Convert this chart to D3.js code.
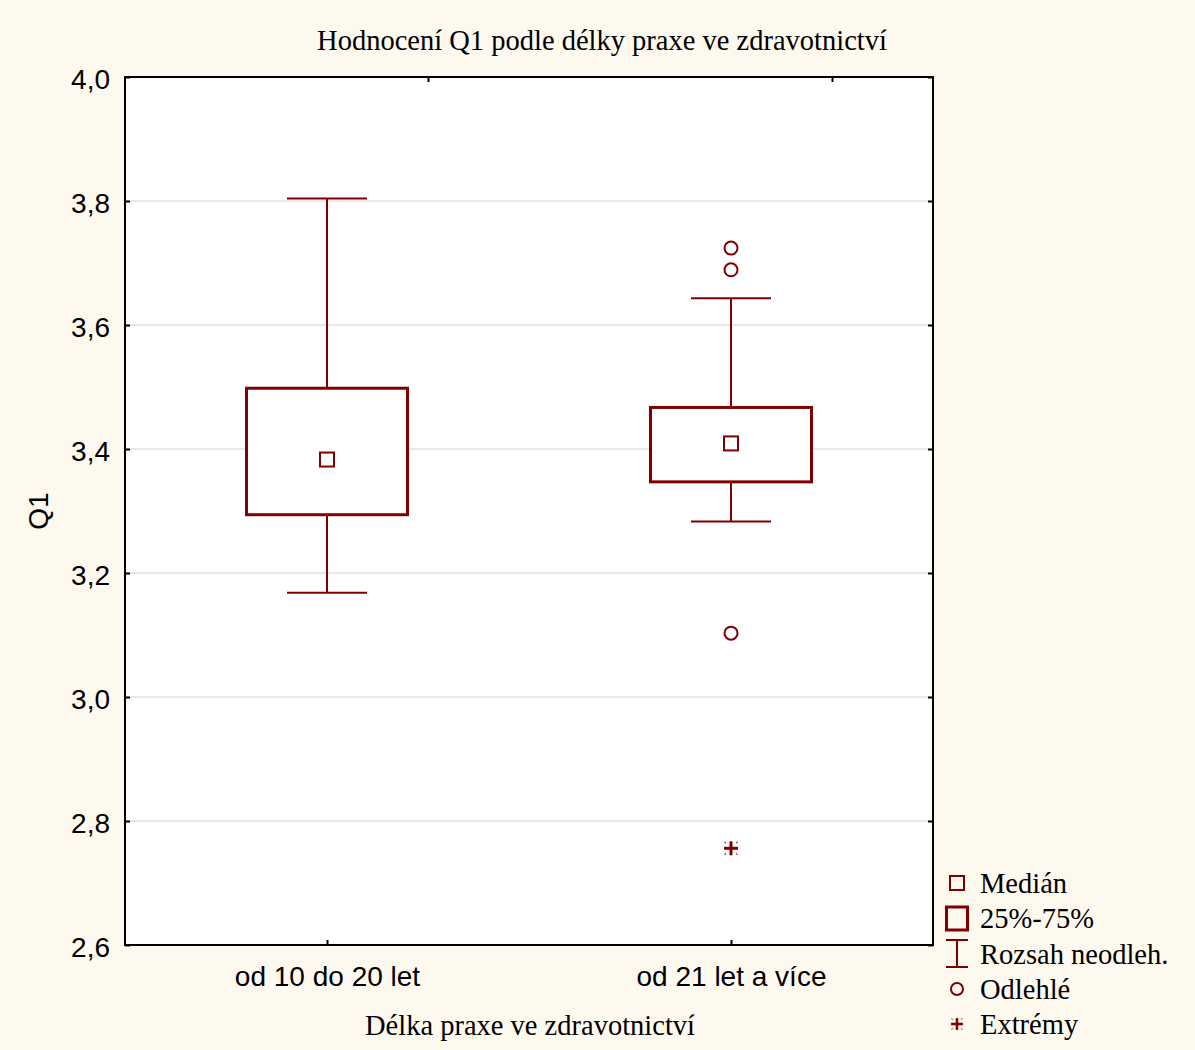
<!DOCTYPE html>
<html>
<head>
<meta charset="utf-8">
<script src="https://cdn.jsdelivr.net/npm/d3@7"></script>
<style>
  html, body { margin: 0; padding: 0; background: #fef9ee; }
  svg { display: block; }
</style>
</head>
<body>
<svg id="chart" width="1195" height="1050"></svg>
<script>
// Box plot of Q1 scores by length of practice
const categories = ["od 10 do 20 let", "od 21 let a více"];
const q1Lower = [3.294, 3.347];      // 25th percentile
const q1Median = [3.383, 3.409];
const q1Upper = [3.498, 3.467];      // 75th percentile
const whiskerLow = [3.168, 3.283];   // non-outlier minimum
const whiskerHigh = [3.804, 3.643];  // non-outlier maximum
const outliers = [[], [3.724, 3.689, 3.103]];
const extremes = [[], [2.756]];
const yTicks = [2.6, 2.8, 3.0, 3.2, 3.4, 3.6, 3.8, 4.0];
const topTicks = [1.25, 2.25];

const legendItems = ["Medián", "25%-75%", "Rozsah neodleh.", "Odlehlé", "Extrémy"];

const W = 1195, H = 1050;
const plot = { left: 125, top: 77, right: 933, bottom: 945 };
const red = "#800000";
const serif = "'Liberation Serif', 'Times New Roman', serif";
const sans = "'Liberation Sans', Arial, sans-serif";
const sansSize = 28;

const svg = d3.select("#chart");
svg.append("rect").attr("width", W).attr("height", H).attr("fill", "#fef9ee");

const x = d3.scaleLinear().domain([0.5, 2.5]).range([plot.left, plot.right]);
const y = d3.scaleLinear().domain([2.6, 4.0]).range([plot.bottom, plot.top]);
const fmt = v => d3.format(".1f")(v).replace(".", ",");

// plot area
svg.append("rect")
  .attr("x", plot.left).attr("y", plot.top)
  .attr("width", plot.right - plot.left).attr("height", plot.bottom - plot.top)
  .attr("fill", "#ffffff");

// horizontal grid
svg.append("g").selectAll("line")
  .data(yTicks.filter(v => v > 2.6 && v < 4.0))
  .join("line")
  .attr("x1", plot.left).attr("x2", plot.right)
  .attr("y1", d => y(d)).attr("y2", d => y(d))
  .attr("stroke", "#e0e0e0").attr("stroke-width", 1.5);

// axes (ticks point inward)
const leftAxis = svg.append("g").attr("transform", `translate(${plot.left},0)`)
  .call(d3.axisLeft(y).tickValues(yTicks).tickFormat(fmt).tickSizeInner(-5).tickSizeOuter(0).tickPadding(15));
const rightAxis = svg.append("g").attr("transform", `translate(${plot.right},0)`)
  .call(d3.axisRight(y).tickValues(yTicks).tickFormat("").tickSizeInner(-5).tickSizeOuter(0));
const bottomAxis = svg.append("g").attr("transform", `translate(0,${plot.bottom})`)
  .call(d3.axisBottom(x).tickValues([1, 2]).tickFormat(d => categories[d - 1]).tickSizeInner(-5).tickSizeOuter(0));
const topAxis = svg.append("g").attr("transform", `translate(0,${plot.top})`)
  .call(d3.axisTop(x).tickValues(topTicks).tickFormat("").tickSizeInner(-5).tickSizeOuter(0));

[leftAxis, rightAxis, bottomAxis, topAxis].forEach(g => {
  g.select(".domain").remove();
  g.selectAll(".tick line").attr("stroke", "#000").attr("stroke-width", 2);
  g.selectAll("text").attr("fill", "#000").attr("font-family", sans).attr("font-size", sansSize);
});
leftAxis.selectAll("text").attr("dy", "0.4em");
bottomAxis.selectAll("text").attr("y", 41).attr("dy", 0);

// frame
svg.append("rect")
  .attr("x", plot.left).attr("y", plot.top)
  .attr("width", plot.right - plot.left).attr("height", plot.bottom - plot.top)
  .attr("fill", "none").attr("stroke", "#000").attr("stroke-width", 2);

// boxes
const boxW = 161, capW = 80;
const groups = svg.append("g").selectAll("g")
  .data(categories.map((c, i) => ({
    pos: i + 1, lo: q1Lower[i], med: q1Median[i], hi: q1Upper[i],
    wl: whiskerLow[i], wh: whiskerHigh[i], out: outliers[i], ext: extremes[i]
  })))
  .join("g");

// whiskers
groups.append("line")
  .attr("x1", d => x(d.pos)).attr("x2", d => x(d.pos))
  .attr("y1", d => y(d.wh)).attr("y2", d => y(d.hi))
  .attr("stroke", red).attr("stroke-width", 2);
groups.append("line")
  .attr("x1", d => x(d.pos)).attr("x2", d => x(d.pos))
  .attr("y1", d => y(d.lo)).attr("y2", d => y(d.wl))
  .attr("stroke", red).attr("stroke-width", 2);
groups.append("line")
  .attr("x1", d => x(d.pos) - capW / 2).attr("x2", d => x(d.pos) + capW / 2)
  .attr("y1", d => y(d.wh)).attr("y2", d => y(d.wh))
  .attr("stroke", red).attr("stroke-width", 2);
groups.append("line")
  .attr("x1", d => x(d.pos) - capW / 2).attr("x2", d => x(d.pos) + capW / 2)
  .attr("y1", d => y(d.wl)).attr("y2", d => y(d.wl))
  .attr("stroke", red).attr("stroke-width", 2);

// interquartile box
groups.append("rect")
  .attr("x", d => x(d.pos) - boxW / 2).attr("width", boxW)
  .attr("y", d => y(d.hi)).attr("height", d => y(d.lo) - y(d.hi))
  .attr("fill", "#fff").attr("stroke", red).attr("stroke-width", 3);

// median marker
groups.append("rect")
  .attr("x", d => x(d.pos) - 7).attr("y", d => y(d.med) - 7)
  .attr("width", 14).attr("height", 14)
  .attr("fill", "none").attr("stroke", red).attr("stroke-width", 2);

// outliers and extremes
groups.each(function(d) {
  const g = d3.select(this);
  g.selectAll("circle").data(d.out).join("circle")
    .attr("cx", x(d.pos)).attr("cy", v => y(v)).attr("r", 6.5)
    .attr("fill", "none").attr("stroke", red).attr("stroke-width", 2);
  g.selectAll("g.ext").data(d.ext).join("g").attr("class", "ext")
    .attr("transform", v => `translate(${x(d.pos)},${y(v)})`)
    .each(function() { drawExtreme(d3.select(this)); });
});

function drawExtreme(g) {
  g.append("line").attr("x1", -7).attr("x2", 7).attr("y1", 0).attr("y2", 0)
    .attr("stroke", red).attr("stroke-width", 3);
  g.append("line").attr("x1", 0).attr("x2", 0).attr("y1", -7).attr("y2", 7)
    .attr("stroke", red).attr("stroke-width", 3);
  [[-1, -1], [1, -1], [-1, 1], [1, 1]].forEach(([sx, sy]) => {
    g.append("line")
      .attr("x1", sx * 5).attr("y1", sy * 5).attr("x2", sx * 6.5).attr("y2", sy * 6.5)
      .attr("stroke", red).attr("stroke-width", 1.2).attr("opacity", 0.7);
  });
}

// titles
svg.append("text")
  .attr("x", 602).attr("y", 50).attr("text-anchor", "middle")
  .attr("font-family", serif).attr("font-size", 28.5).attr("fill", "#000")
  .text("Hodnocení Q1 podle délky praxe ve zdravotnictví");
svg.append("text")
  .attr("x", (plot.left + plot.right) / 2 + 1).attr("y", 1035).attr("text-anchor", "middle")
  .attr("font-family", serif).attr("font-size", 28.5).attr("fill", "#000")
  .text("Délka praxe ve zdravotnictví");
svg.append("text")
  .attr("transform", `translate(48,${(plot.top + plot.bottom) / 2}) rotate(-90)`)
  .attr("text-anchor", "middle")
  .attr("font-family", sans).attr("font-size", sansSize).attr("fill", "#000")
  .text("Q1");

// legend
const legend = svg.append("g").attr("transform", "translate(957,0)");
const rowY = [883, 918, 954, 989, 1024];
legendItems.forEach((label, i) => {
  const g = legend.append("g").attr("transform", `translate(0,${rowY[i]})`);
  if (i === 0) {
    g.append("rect").attr("x", -7).attr("y", -7).attr("width", 14).attr("height", 14)
      .attr("fill", "none").attr("stroke", red).attr("stroke-width", 2);
  } else if (i === 1) {
    g.append("rect").attr("x", -10.5).attr("y", -11).attr("width", 21).attr("height", 23)
      .attr("fill", "none").attr("stroke", red).attr("stroke-width", 3);
  } else if (i === 2) {
    g.append("line").attr("x1", -11).attr("x2", 11).attr("y1", -14).attr("y2", -14)
      .attr("stroke", red).attr("stroke-width", 2);
    g.append("line").attr("x1", -11).attr("x2", 11).attr("y1", 13).attr("y2", 13)
      .attr("stroke", red).attr("stroke-width", 2);
    g.append("line").attr("x1", 0).attr("x2", 0).attr("y1", -14).attr("y2", 13)
      .attr("stroke", red).attr("stroke-width", 2);
  } else if (i === 3) {
    g.append("circle").attr("r", 6).attr("fill", "none").attr("stroke", red).attr("stroke-width", 2);
  } else {
    const e = g.append("g").attr("transform", "scale(0.85)");
    drawExtreme(e);
  }
  g.append("text").attr("x", 23).attr("y", 0).attr("dy", "0.35em")
    .attr("font-family", serif).attr("font-size", 28.5).attr("fill", "#000")
    .text(label);
});
</script>
</body>
</html>
